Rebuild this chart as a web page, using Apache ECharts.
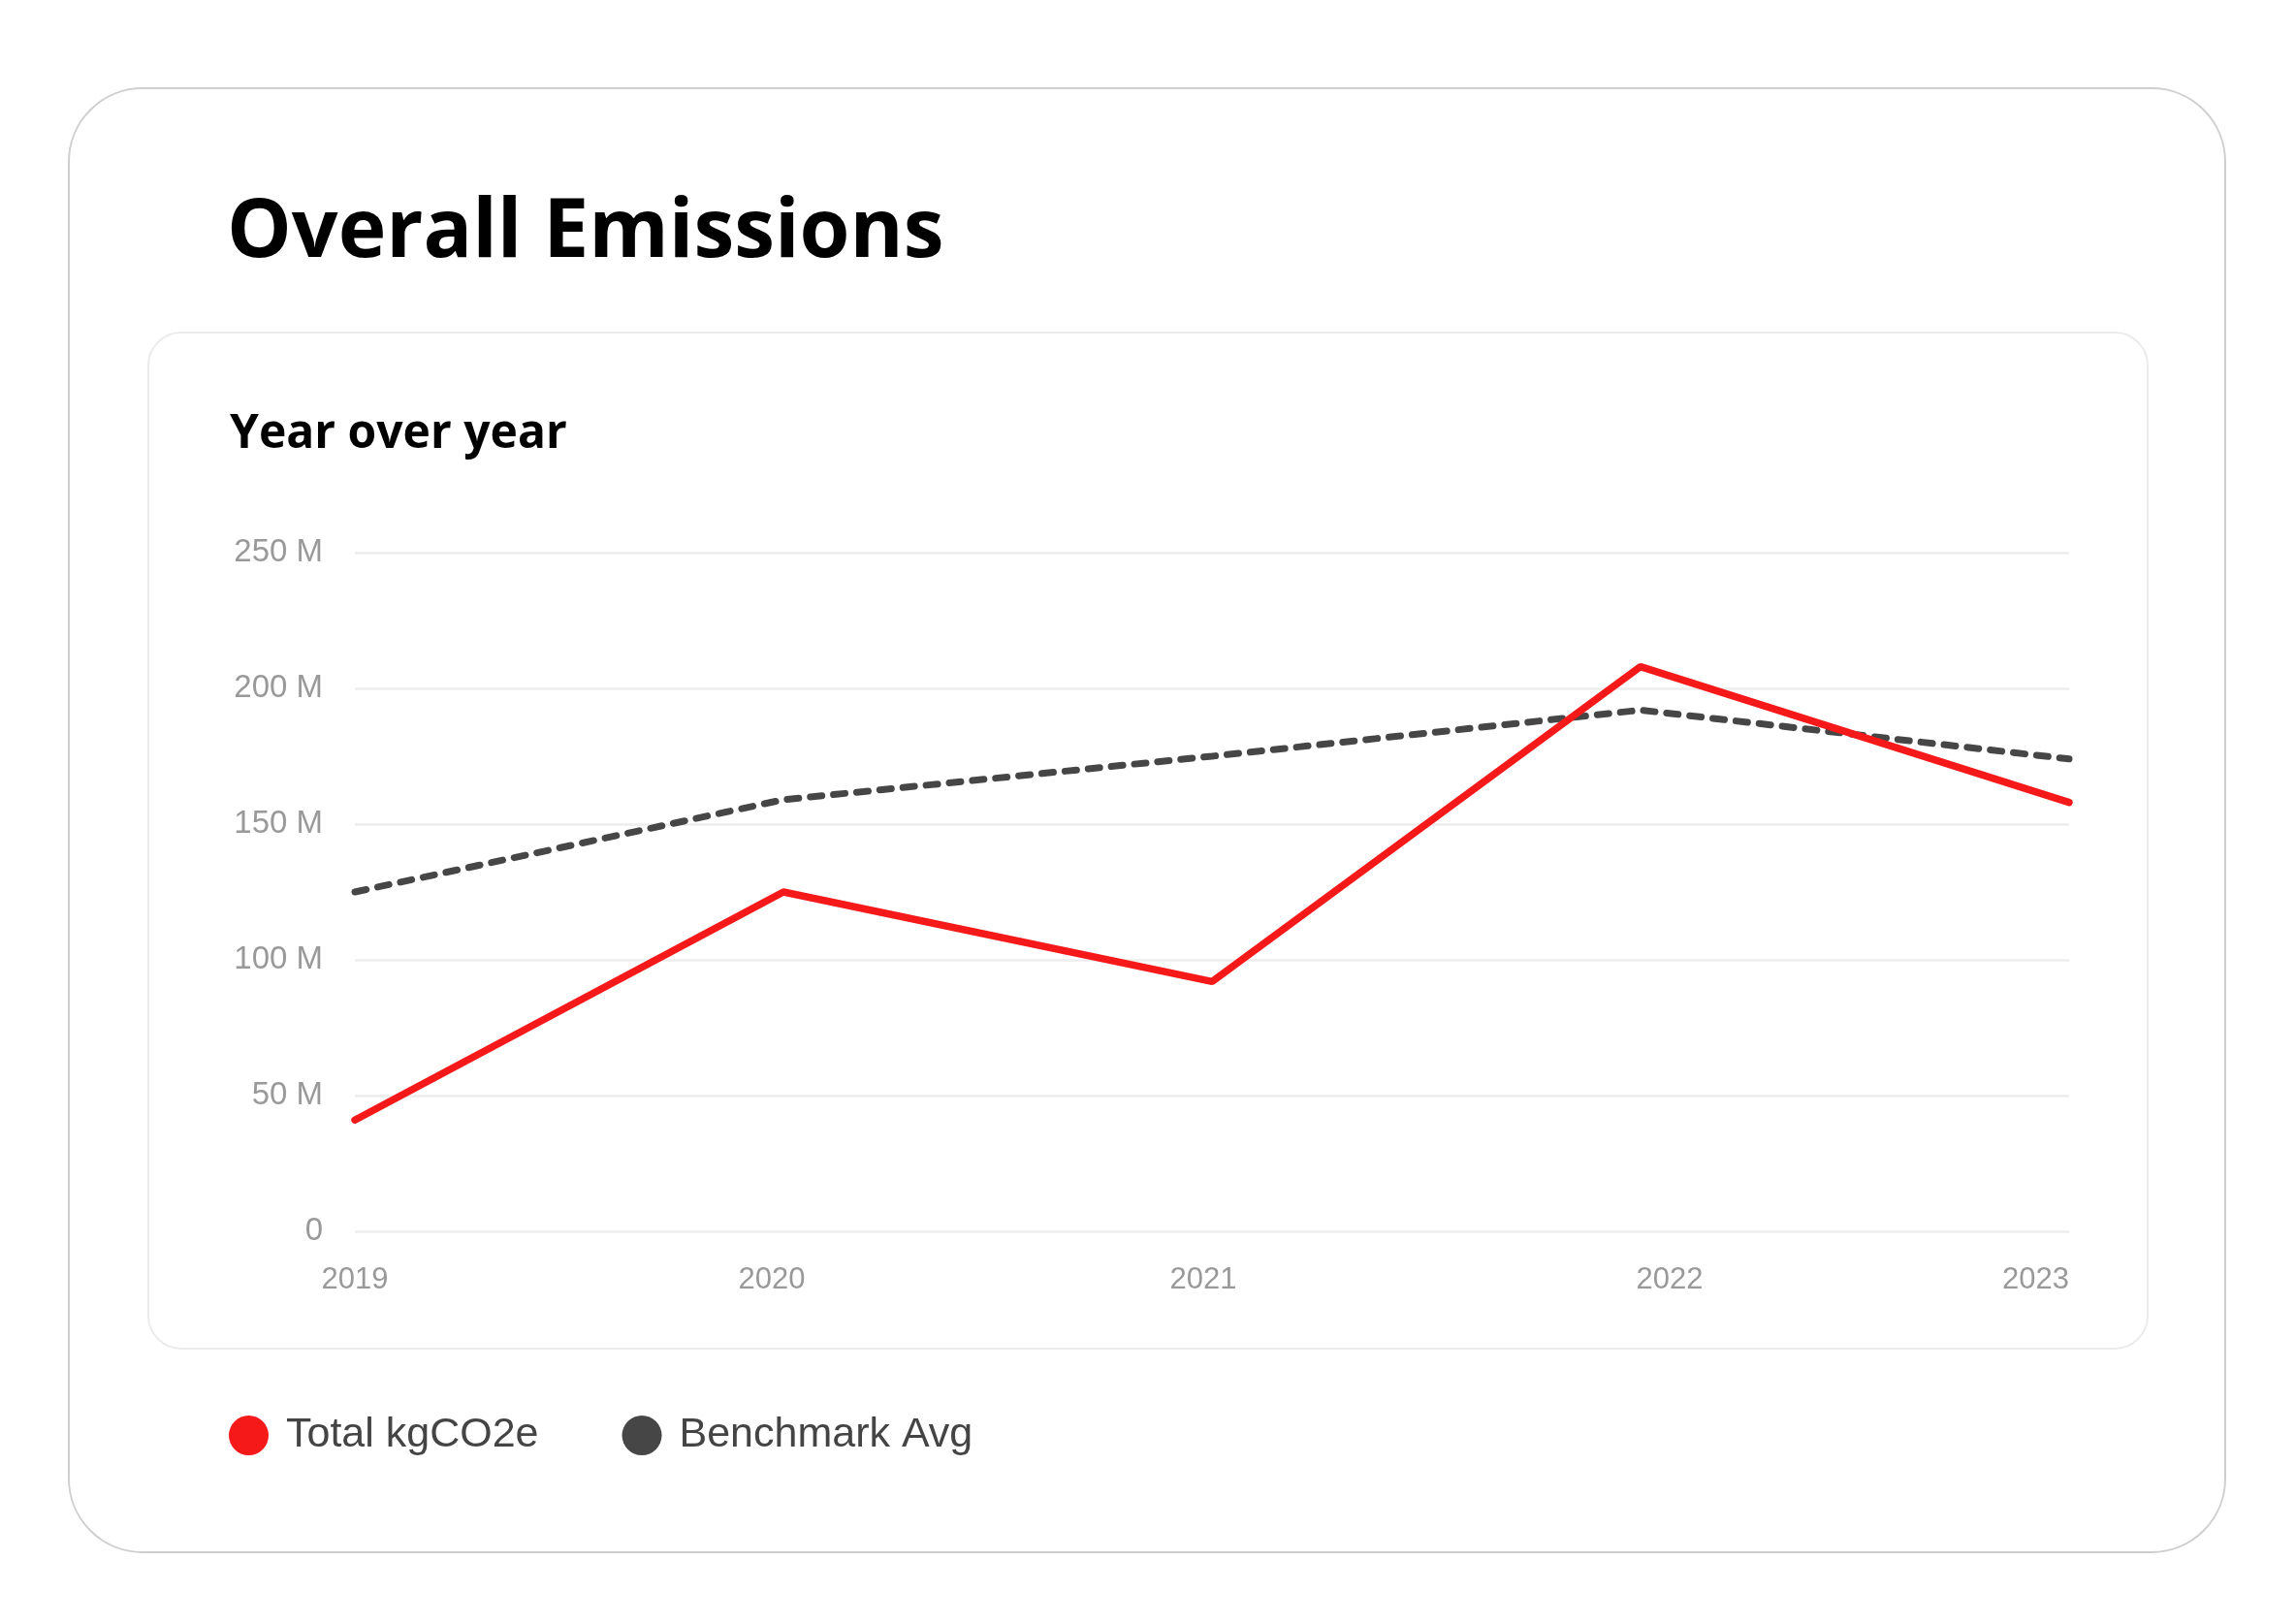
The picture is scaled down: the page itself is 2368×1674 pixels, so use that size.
<!DOCTYPE html>
<html>
<head>
<meta charset="utf-8">
<script src="https://cdn.jsdelivr.net/npm/echarts@6/dist/echarts.min.js"></script>
<style>
  html, body { margin: 0; padding: 0; background: #fff; }
  #main { width: 2368px; height: 1674px; }
</style>
</head>
<body>
<div id="main"></div>
<script>
// 数据（单位：百万 kgCO2e）
let years = ['2019', '2020', '2021', '2022', '2023']
let totalKg = [41, 125, 92, 208, 158]
let benchmarkAvg = [125, 159, 175, 192, 174]
let yTicks = { min: 0, max: 250, step: 50 }

// x轴标签的微调（像素），原图标签没有正好居中
let labelNudge = [0, -12, -9, 30, 0]

let red = '#f61919'
let gray = '#464646'

var myChart = echarts.init(document.getElementById('main'))

// 每个标签一个 rich 样式，用 padding 把文字左右挪动
let rich = {}
labelNudge.forEach((s, i) => {
    rich['n' + i] = {
        fontFamily: 'Liberation Sans',
        fontSize: 31,
        color: '#999',
        padding: s < 0 ? [0, -2 * s, 0, 0] : [0, 0, 0, 2 * s]
    }
})

var option = {
    backgroundColor: '#fff',
    animation: false,
    graphic: [
        {
            // 外框
            type: 'rect',
            shape: { x: 71, y: 91, width: 2224, height: 1510, r: 76 },
            style: { fill: '#fff', stroke: '#cfcfcf', lineWidth: 2 },
            z: -10
        },
        {
            // 内框
            type: 'rect',
            shape: { x: 153, y: 343, width: 2062, height: 1048, r: 34 },
            style: { fill: '#fff', stroke: '#ebebeb', lineWidth: 2 },
            z: -9
        }
    ],
    title: [
        {
            text: 'Overall Emissions',
            left: 229,
            top: 194,
            textStyle: { fontFamily: 'Open Sans', fontWeight: 700, fontSize: 84, color: '#000' }
        },
        {
            text: 'Year over year',
            left: 232,
            top: 419,
            textStyle: { fontFamily: 'Open Sans', fontWeight: 700, fontSize: 48, color: '#000' }
        }
    ],
    legend: {
        left: 231,
        top: 1454,
        icon: 'circle',
        itemWidth: 41,
        itemHeight: 41,
        itemGap: 86,
        textStyle: {
            fontFamily: 'Liberation Sans',
            fontSize: 43,
            color: '#444',
            padding: [0, 0, 0, 13]
        },
        data: ['Total kgCO2e', 'Benchmark Avg']
    },
    grid: {
        left: 366,
        right: 234,
        top: 570,
        bottom: 404,
        containLabel: false
    },
    xAxis: {
        type: 'category',
        data: years,
        boundaryGap: false,
        axisLine: { show: false },
        axisTick: { show: false },
        splitLine: { show: false },
        axisLabel: {
            margin: 35,
            fontFamily: 'Liberation Sans',
            fontSize: 31,
            color: '#999',
            alignMaxLabel: 'right',
            formatter: (v, i) => '{n' + i + '|' + v + '}',
            rich
        }
    },
    yAxis: {
        type: 'value',
        min: yTicks.min,
        max: yTicks.max,
        interval: yTicks.step,
        axisLine: { show: false },
        axisTick: { show: false },
        splitLine: { lineStyle: { color: '#ededed', width: 2.5 } },
        axisLabel: {
            margin: 33,
            fontFamily: 'Liberation Sans',
            fontSize: 33,
            color: '#999',
            formatter: v => v === 0 ? '0' : v + ' M'
        }
    },
    series: [
        {
            name: 'Total kgCO2e',
            type: 'line',
            data: totalKg,
            showSymbol: false,
            color: red,
            lineStyle: { color: red, width: 7.5, cap: 'round' },
            z: 3
        },
        {
            name: 'Benchmark Avg',
            type: 'line',
            data: benchmarkAvg,
            showSymbol: false,
            color: gray,
            lineStyle: { color: gray, width: 7, type: [12, 12], cap: 'round' },
            z: 2
        }
    ]
}

myChart.setOption(option)
</script>
</body>
</html>
